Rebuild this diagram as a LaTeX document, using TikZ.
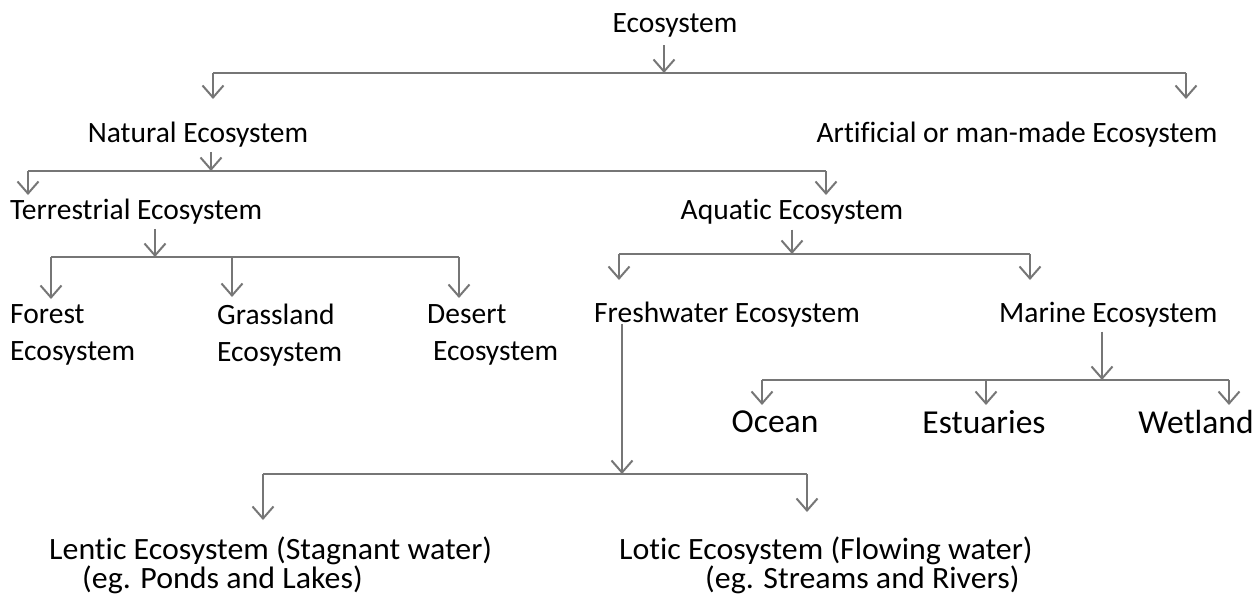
\documentclass[tikz,border=0pt]{standalone}
\usepackage{fontspec}
\setmainfont{Carlito}[Ligatures=NoCommon]
\usetikzlibrary{arrows.meta}
\definecolor{lncol}{RGB}{118,118,118}
\begin{document}
\begin{tikzpicture}[x=1pt,y=-1pt,
  lbl/.style={inner sep=0pt,font=\fontsize{29.5}{37}\selectfont,text=black},
  big/.style={inner sep=0pt,font=\fontsize{33.5}{38}\selectfont,text=black},
  low/.style={inner sep=0pt,font=\fontsize{31}{31}\selectfont,text=black,xscale=1.03,anchor=base west},
  ln/.style={draw=lncol,line width=2pt},
  arr/.style={ln,-{Straight Barb[length=12pt,width=21pt,line width=2pt]}}]
\useasboundingbox (0,0) rectangle (1256,595);
% nodes
\node[lbl] (eco) at (675,25) {Ecosystem};
\node[lbl] (nat) at (198,135) {Natural Ecosystem};
\node[lbl] (art) at (1017,135) {Artificial or man-made Ecosystem};
\node[lbl,anchor=west] (ter) at (10,212) {Terrestrial Ecosystem};
\node[lbl] (aqu) at (792,212) {Aquatic Ecosystem};
\node[lbl,anchor=west,align=left] (for) at (10,335) {Forest\\Ecosystem};
\node[lbl,anchor=west,align=left] (gra) at (217,335) {Grassland\\Ecosystem};
\node[lbl,anchor=west,align=left] (des) at (427,335) {Desert\\\hspace*{6pt}Ecosystem};
\node[lbl,anchor=west] (fre) at (594,315) {Freshwater Ecosystem};
\node[lbl,anchor=west] (mar) at (999,315) {Marine Ecosystem};
\node[big] (oce) at (775,422) {Ocean};
\node[big] (est) at (984,422) {Estuaries};
\node[big] (wet) at (1196,422) {Wetland};
\node[low] (len) at (49,559) {Lentic Ecosystem (Stagnant water)};
\node[low] (len2) at (82,588.5) {(eg. Ponds and Lakes)};
\node[low] (lot) at (619,559) {Lotic Ecosystem (Flowing water)};
\node[low] (lot2) at (705,588.5) {(eg. Streams and Rivers)};
% junction coordinates
\coordinate (b1) at (664,73); \coordinate (b1l) at (213,73); \coordinate (b1r) at (1186,73);
\coordinate (t1l) at (213,99); \coordinate (t1r) at (1186,99);
\coordinate (b2) at (211,171); \coordinate (b2l) at (28,171); \coordinate (b2r) at (826,171);
\coordinate (t2l) at (28,195); \coordinate (t2r) at (826,195);
\coordinate (b3) at (155,257); \coordinate (b3l) at (51,257); \coordinate (b3m) at (232,257); \coordinate (b3r) at (459,257);
\coordinate (t3l) at (51,299); \coordinate (t3m) at (232,297); \coordinate (t3r) at (459,298);
\coordinate (b4) at (792,254); \coordinate (b4l) at (619,254); \coordinate (b4r) at (1030,254);
\coordinate (t4l) at (619,280); \coordinate (t4r) at (1030,280);
\coordinate (b5) at (1102,380); \coordinate (b5l) at (762,380); \coordinate (b5m) at (986,380); \coordinate (b5r) at (1229,380);
\coordinate (t5l) at (762,405); \coordinate (t5m) at (986,405); \coordinate (t5r) at (1229,405);
\coordinate (b6) at (622,474); \coordinate (b6l) at (263,474); \coordinate (b6r) at (807,474);
\coordinate (t6l) at (263,520); \coordinate (t6r) at (807,512);
% connectors
\draw[arr,shorten <=8pt] (b1 |- eco.south) -- (b1);
\draw[ln] (b1l) -- (b1r);
\draw[arr] (b1l) -- (t1l);
\draw[arr] (b1r) -- (t1r);
\draw[arr,shorten <=4pt] (b2 |- nat.south) -- (b2);
\draw[ln] (b2l) -- (b2r);
\draw[arr] (b2l) -- (t2l);
\draw[arr] (b2r) -- (t2r);
\draw[arr,shorten <=4pt] (b3 |- ter.south) -- (b3);
\draw[ln] (b3l) -- (b3r);
\draw[arr] (b3l) -- (t3l);
\draw[arr] (b3m) -- (t3m);
\draw[arr] (b3r) -- (t3r);
\draw[arr,shorten <=5pt] (b4 |- aqu.south) -- (b4);
\draw[ln] (b4l) -- (b4r);
\draw[arr] (b4l) -- (t4l);
\draw[arr] (b4r) -- (t4r);
\draw[arr,shorten <=4pt] (b5 |- mar.south) -- (b5);
\draw[ln] (b5l) -- (b5r);
\draw[arr] (b5l) -- (t5l);
\draw[arr] (b5m) -- (t5m);
\draw[arr] (b5r) -- (t5r);
\draw[arr,shorten <=-4pt] (b6 |- fre.south) -- (b6);
\draw[ln] (b6l) -- (b6r);
\draw[arr] (b6l) -- (t6l);
\draw[arr] (b6r) -- (t6r);
\end{tikzpicture}
\end{document}
